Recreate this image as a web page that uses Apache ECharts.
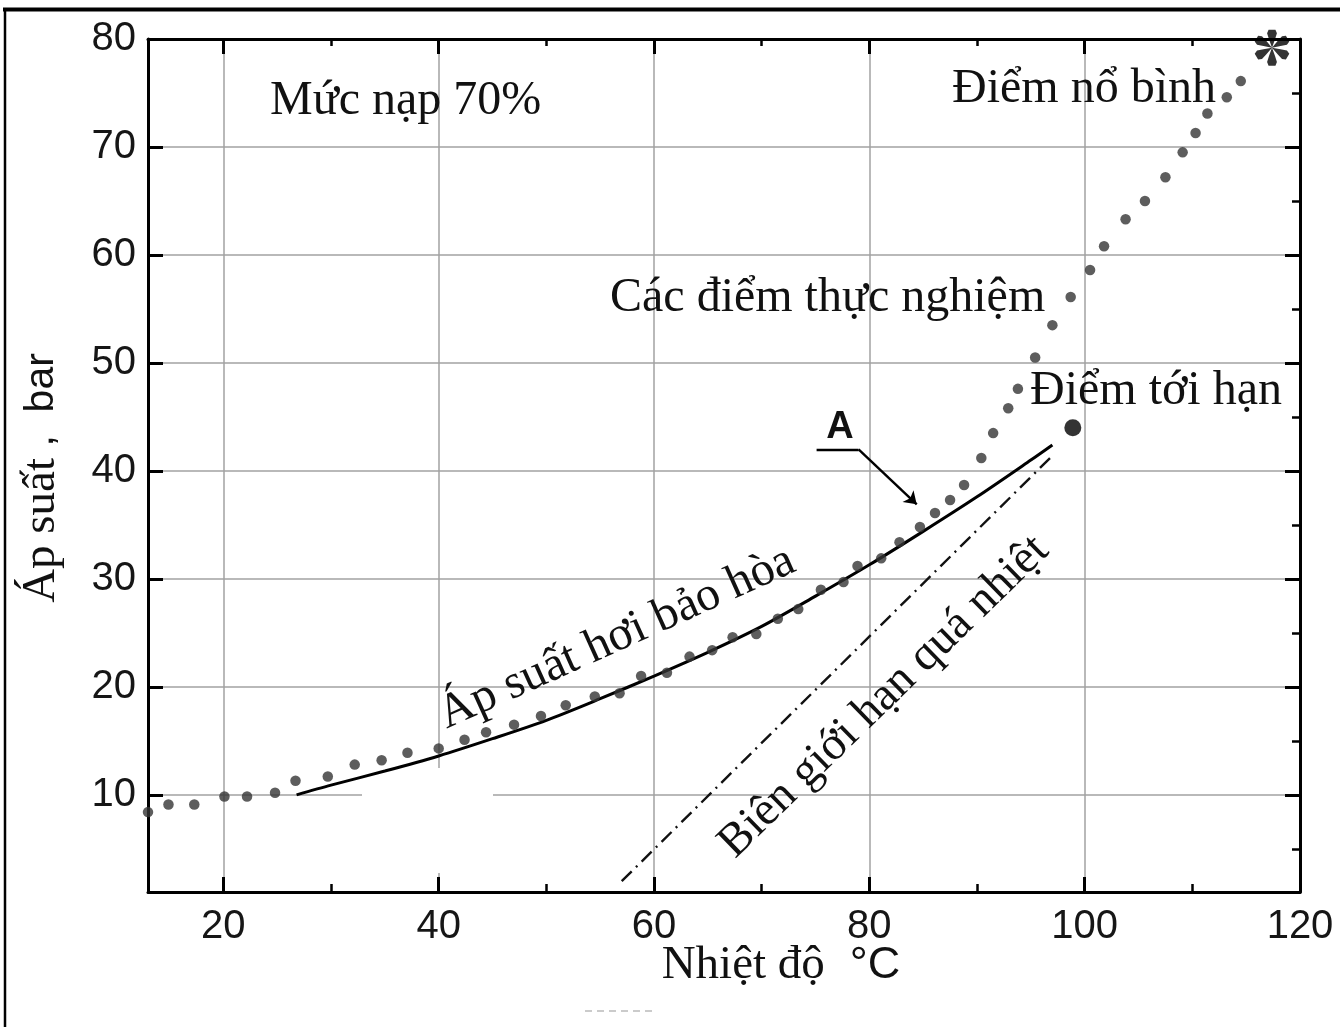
<!DOCTYPE html>
<html><head><meta charset="utf-8">
<script src="https://cdn.jsdelivr.net/npm/echarts@6/dist/echarts.min.js"></script>
<style>html,body{margin:0;padding:0;background:#fff}#c{width:1340px;height:1027px}</style>
</head><body><div id="c"></div>
<script>
// Experimental points (temperature °C, pressure bar)
const tempExp = [13.0,14.9,17.3,20.1,22.2,24.8,26.7,29.7,32.2,34.7,37.1,40.0,42.4,44.4,47.0,49.5,51.8,54.5,56.8,58.8,61.2,63.3,65.4,67.3,69.5,71.5,73.4,75.5,77.6,78.9,81.1,82.8,84.7,86.1,87.5,88.8,90.4,91.5,92.9,93.8,95.4,97.0,98.7,100.5,101.8,103.8,105.6,107.5,109.1,110.3,111.4,113.2,114.5];
const presExp = [8.4,9.1,9.1,9.85,9.85,10.2,11.3,11.7,12.8,13.2,13.9,14.3,15.1,15.8,16.5,17.3,18.3,19.1,19.4,21.0,21.3,22.8,23.4,24.6,24.9,26.3,27.2,29.0,29.7,31.2,31.9,33.4,34.8,36.1,37.3,38.7,41.2,43.5,45.8,47.6,50.5,53.5,56.1,58.6,60.8,63.3,65.0,67.2,69.5,71.3,73.1,74.6,76.1];
// Saturated vapour pressure curve
const tempSat = [26.8,30,35,40,45,50,55,60,65,70,75,80,85,90,95,97];
const presSat = [10.0,10.9,12.2,13.6,15.2,16.9,18.9,21.0,23.2,25.6,28.4,31.3,34.4,37.6,41.0,42.4];
// Superheat limit line
const tempLimit = [57.0, 97.1];
const presLimit = [2.0, 41.5];
// Special points
const criticalPoint = [98.9, 44.0];
const burstPoint = [117.4, 79.2];
// Arrow "A" (data coords)
const arrowTemp = [75.1, 79.0, 84.4];
const arrowPres = [42.0, 42.0, 36.9];
// Axis ticks
const xMajor = [20,40,60,80,100,120];
const xMinor = [30,50,70,90,110];
const yMajor = [10,20,30,40,50,60,70,80];
const yMinor = [5,15,25,35,45,55,65,75];

const zip = (a,b) => a.map((v,i)=>[v,b[i]]);

function asteriskPath(){
  const base = [[0,0],[1.8,-5],[3.0,-8.8],[2.1,-11],[-2.1,-11],[-3.0,-8.8],[-1.8,-5]];
  let d = '';
  for (let k=0;k<6;k++){
    const a = k*Math.PI/3, c=Math.cos(a), s=Math.sin(a);
    base.forEach((p,i)=>{
      const x = (p[0]*c - p[1]*s).toFixed(2), y=(p[0]*s + p[1]*c).toFixed(2);
      d += (i===0?'M':'L')+x+' '+y+' ';
    });
    d += 'Z ';
  }
  return 'path://'+d;
}

const SERIF = 'Liberation Serif';
const SANS = 'Liberation Sans';
const gridColor = '#a2a2a2';

function xAx(pos, ticks, len, labels, split, line){
  return {type:'value', min:13, max:120, position:pos,
    axisLine:{show:line, onZero:false, lineStyle:{color:'#000', width:3}},
    axisTick:{show:true, inside:true, length:len, customValues:ticks, lineStyle:{color:'#000', width:len>10?3:2.5}},
    axisLabel:{show:labels, customValues:ticks, fontSize:40, fontFamily:SANS, color:'#161616', margin:15},
    splitLine:{show:split, lineStyle:{color:gridColor, width:1.5}}};
}
function yAx(pos, ticks, len, labels, split, line){
  return {type:'value', min:1, max:80, position:pos,
    axisLine:{show:line, onZero:false, lineStyle:{color:'#000', width:3}},
    axisTick:{show:true, inside:true, length:len, customValues:ticks, lineStyle:{color:'#000', width:len>10?3:2.5}},
    axisLabel:{show:labels, customValues:ticks, fontSize:40, fontFamily:SANS, color:'#161616', margin:12},
    splitLine:{show:split, lineStyle:{color:gridColor, width:1.5}}};
}

const chart = echarts.init(document.getElementById('c'));
chart.setOption({
  animation:false,
  backgroundColor:'#fff',
  grid:{left:148, right:40, top:39, bottom:135},
  xAxis:[
    xAx('bottom', xMajor, 15, true, true, true),
    xAx('bottom', xMinor, 8, false, false, false),
    xAx('top', xMajor, 15, false, false, true),
    xAx('top', xMinor, 7, false, false, false)
  ],
  yAxis:[
    yAx('left', yMajor, 15, true, true, true),
    yAx('right', yMajor, 15, false, false, true),
    yAx('right', yMinor, 8, false, false, false)
  ],
  series:[
    {type:'line', name:'Áp suất hơi bảo hòa', data:zip(tempSat,presSat), smooth:0.3, showSymbol:false, symbol:'none',
      lineStyle:{color:'#000', width:3}, z:3},
    {type:'line', name:'Biên giới hạn quá nhiệt', data:zip(tempLimit,presLimit), showSymbol:false, symbol:'none',
      lineStyle:{color:'#111', width:2.4, type:[14,6,2,6]}, z:3},
    {type:'scatter', name:'Các điểm thực nghiệm', data:zip(tempExp,presExp), symbol:'circle', symbolSize:10.5,
      itemStyle:{color:'#343434'}, z:4},
    {type:'scatter', name:'Điểm tới hạn', data:[criticalPoint], symbol:'circle', symbolSize:17,
      itemStyle:{color:'#000'}, z:4},
    {type:'scatter', name:'Điểm nổ bình', data:[burstPoint], symbol:asteriskPath(), symbolKeepAspect:true, symbolSize:36,
      itemStyle:{color:'#000'}, z:5},
    {type:'lines', coordinateSystem:'cartesian2d', symbol:'none',
      data:[{coords:[[arrowTemp[0],arrowPres[0]],[arrowTemp[1],arrowPres[1]]]}],
      lineStyle:{color:'#000', width:2.4, opacity:1, curveness:0}, z:5},
    {type:'lines', coordinateSystem:'cartesian2d', symbol:['none','arrow'], symbolSize:[0,12],
      data:[{coords:[[arrowTemp[1],arrowPres[1]],[arrowTemp[2],arrowPres[2]]]}],
      lineStyle:{color:'#000', width:2.4, opacity:1, curveness:0}, z:5}
  ],
  graphic:[
    // outer frame
    {type:'line', shape:{x1:3, y1:9.5, x2:1340, y2:9.5}, style:{stroke:'#000', lineWidth:4}, z:10},
    {type:'line', shape:{x1:5, y1:8, x2:5, y2:1027}, style:{stroke:'#000', lineWidth:2.5}, z:10},
    // erased gridline portions in the original
    {type:'rect', shape:{x:362, y:790, width:131, height:10}, style:{fill:'#fff'}, z:1},
    {type:'rect', shape:{x:435, y:768, width:10, height:105}, style:{fill:'#fff'}, z:1},
    {type:'line', shape:{x1:585, y1:1011, x2:657, y2:1011}, style:{stroke:'#bbb', lineWidth:1.5, lineDash:[7,5]}, z:1},
    // texts
    {type:'text', x:270, y:101, style:{text:'Mức nạp 70%', font:'48px "Liberation Serif"', fill:'#111', align:'left', verticalAlign:'middle'}, z:10},
    {type:'text', x:952, y:89, style:{text:'Điểm nổ bình', font:'48px "Liberation Serif"', fill:'#111', align:'left', verticalAlign:'middle'}, z:10},
    {type:'text', x:610, y:298, style:{text:'Các điểm thực nghiệm', font:'48px "Liberation Serif"', fill:'#111', align:'left', verticalAlign:'middle'}, z:10},
    {type:'text', x:1030, y:391, style:{text:'Điểm tới hạn', font:'48px "Liberation Serif"', fill:'#111', align:'left', verticalAlign:'middle'}, z:10},
    {type:'text', x:840, y:428, style:{text:'A', font:'bold 38px "Liberation Sans"', fill:'#111', align:'center', verticalAlign:'middle'}, z:10},
    {type:'text', x:617, y:638, rotation:24.3*Math.PI/180, style:{text:'Áp suất hơi bảo hòa', font:'48px "Liberation Serif"', fill:'#111', align:'center', verticalAlign:'middle'}, z:10},
    {type:'text', x:884, y:697, rotation:44.2*Math.PI/180, style:{text:'Biên giới hạn quá nhiệt', font:'47px "Liberation Serif"', fill:'#111', align:'center', verticalAlign:'middle'}, z:10},
    {type:'text', x:781, y:966, style:{text:'{a|Nhiệt độ}{b|  °C}', align:'center', verticalAlign:'middle',
      rich:{a:{font:'47px "Liberation Serif"', fill:'#111'}, b:{font:'45px "Liberation Sans"', fill:'#111'}}}, z:10},
    {type:'text', x:42, y:478, rotation:Math.PI/2, style:{text:'{a|Áp suất}{b| ,  bar}', align:'center', verticalAlign:'middle',
      rich:{a:{font:'47px "Liberation Serif"', fill:'#111'}, b:{font:'41px "Liberation Sans"', fill:'#111'}}}, z:10}
  ]
});
</script></body></html>
